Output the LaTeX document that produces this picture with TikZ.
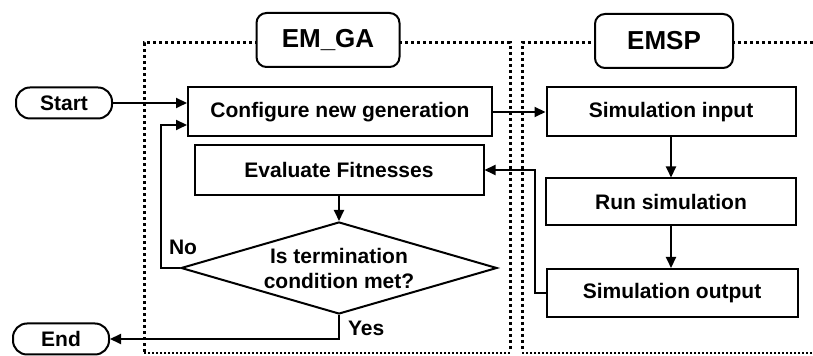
\documentclass[tikz,border=0pt]{standalone}
\usepackage{fontspec}
\setmainfont{Liberation Sans}
\usetikzlibrary{shapes.geometric,arrows.meta}

\begin{document}
\begin{tikzpicture}[x=0.5pt,y=-0.5pt,
  font=\fontsize{10.5}{12.5}\selectfont\bfseries,
  box/.style={draw,line width=1pt,inner sep=0pt,minimum height=24.5pt},
  term/.style={draw,line width=1pt,rounded corners=7pt,minimum width=48pt,minimum height=15.5pt,inner sep=0pt},
  tag/.style={draw,line width=1pt,rounded corners=5pt,fill=white,minimum height=27pt,inner sep=0pt,
    font=\fontsize{13}{15}\selectfont\bfseries},
  frame/.style={dash pattern=on 1.5pt off 1.5pt,line width=1.5pt},
  framebase/.style={dash pattern=on 1pt off 1pt,line width=0.9pt},
  flow/.style={line width=1pt,-{Triangle[length=5.5pt,width=5pt]}}]
\useasboundingbox (0,0) rectangle (813,356);
\draw[frame] (144,352) -- (144,43) -- (510,43) -- (510,352);
\draw[framebase] (144,353) -- (510,353);
\draw[frame] (813,43) -- (522,43) -- (522,352);
\draw[framebase] (522,353) -- (813,353);
\node[tag,minimum width=71.5pt] (emga) at (328,40) {EM\_GA};
\node[tag,minimum width=69pt] (emsp) at (664,41) {EMSP};

\node[term] (start) at (64,103) {Start};
\node[term] (end) at (61,339) {End};
\node[box,minimum width=152pt] (config) at (340,112) {Configure new generation};
\node[box,minimum width=144.5pt,minimum height=25pt] (eval) at (339,170) {Evaluate Fitnesses};
\node[draw,line width=1pt,diamond,aspect=3.4,inner sep=0pt,minimum width=158pt,minimum height=46pt,align=center]
  (check) at (339,268) {Is termination\\condition met?};
\node[box,minimum width=124.5pt] (simin) at (671,112) {Simulation input};
\node[box,minimum width=125pt,minimum height=23.5pt] (run) at (671,202) {Run simulation};
\node[box,minimum width=125.5pt,minimum height=24pt] (simout) at (672,293) {Simulation output};

\draw[flow] (start.east) -- (start.east -| config.west);
\draw[flow] (config.east) -- (simin.west);
\draw[flow] (simin.south) -- (simin.south |- run.north);
\draw[flow] (run.south) -- (run.south |- simout.north);
\draw[flow] (simout.west) -- ++(-11,0) |- (eval.east);
\draw[flow] (eval.south) -- (eval.south |- check.north);
\draw[flow] (check.west) -- ++(-19,0) node[anchor=south west,inner sep=0pt,xshift=3.5pt,yshift=6pt] {No}
  |- ([yshift=-6.5pt]config.west);
\draw[flow] (check.south) |- (end.east) node[pos=0.5,anchor=south west,inner sep=0pt,xshift=4pt,yshift=1pt] {Yes};
\end{tikzpicture}
\end{document}
